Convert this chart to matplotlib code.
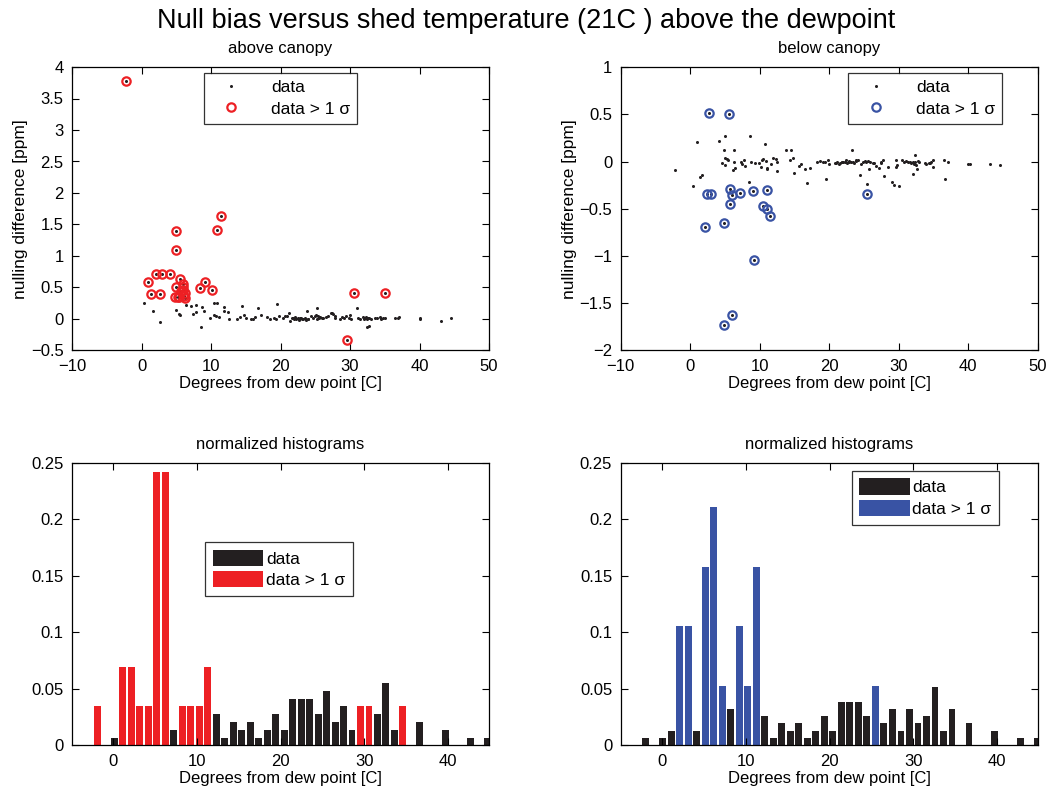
import matplotlib
matplotlib.use("Agg")
import matplotlib.pyplot as plt
from matplotlib.ticker import FuncFormatter
from matplotlib.patches import Patch
from matplotlib.lines import Line2D

plt.rcParams['font.family'] = ['Liberation Sans', 'DejaVu Sans']

# ---------------- data ----------------
# above canopy: all points that are within 1 sigma
above_x = [0.43, 1.7, 2.6, 5.0, 5.4, 5.6, 6.4, 7.1, 7.4, 7.8, 7.8, 8.5, 8.7, 9.0, 9.8,
           10.4, 10.4, 10.7, 10.9, 11.1, 11.9, 11.8, 12.5, 12.6, 13.7, 14.2, 14.5, 14.8,
           15.0, 15.7, 16.0, 16.4, 16.7, 17.2, 18.1, 18.5, 19.0, 19.4, 19.5, 19.8, 20.3,
           20.7, 21.0, 21.2, 21.4, 21.6, 21.8, 21.9, 22.1, 22.3, 22.5, 22.6, 22.8, 22.9,
           23.1, 23.3, 23.5, 23.6, 23.8, 23.9, 24.0, 24.4, 24.7, 24.9, 25.1, 25.2, 25.3,
           25.4, 25.6, 25.7, 25.9, 26.1, 26.5, 26.8, 27.2, 27.4, 27.6, 27.8, 27.9, 28.5,
           28.9, 29.2, 29.4, 29.8, 30.0, 30.2, 31.0, 31.2, 31.5, 31.8, 32.0, 32.2, 32.3,
           32.4, 32.5, 32.6, 32.7, 32.8, 33.0, 33.6, 33.9, 34.3, 34.5, 34.8, 35.1, 36.5,
           36.9, 37.0, 40.0, 40.1, 43.1, 44.6]
above_y = [0.26, 0.12, -0.05, 0.14, 0.08, 0.06, 0.23, 0.21, 0.08, 0.22, 0.11, -0.12, 0.19,
           0.13, 0.02, 0.26, 0.06, 0.04, 0.25, 0.03, 0.19, 0.13, 0.11, 0.0, 0.0, 0.03, 0.2,
           0.06, 0.01, 0.0, 0.0, 0.03, 0.17, 0.07, 0.03, 0.0, 0.02, 0.0, 0.24, 0.04, 0.02,
           0.05, 0.04, 0.1, -0.03, 0.01, 0.02, 0.0, 0.03, 0.0, 0.01, -0.01, 0.01, 0.02,
           0.0, 0.0, 0.01, -0.01, 0.13, 0.0, 0.0, 0.04, 0.02, 0.05, 0.06, 0.17, 0.0,
           0.04, 0.02, 0.03, 0.01, 0.01, 0.03, 0.04, 0.1, 0.09, 0.08, 0.04, 0.02, 0.0,
           0.03, 0.02, 0.04, 0.01, 0.06, 0.0, 0.17, 0.02, 0.0, 0.03, 0.0, 0.02, 0.03,
           -0.13, 0.0, 0.01, 0.02, -0.11, 0.0, 0.02, 0.02, 0.03, 0.0, 0.01, 0.01, 0.01,
           0.02, 0.03, 0.0, 0.01, -0.03, 0.01]
# above canopy: points beyond 1 sigma
above_out_x = [-2.2, 0.9, 1.4, 2.07, 2.6, 2.9, 4.1, 4.8, 4.9, 4.9, 5.0, 5.2, 5.4, 5.5, 5.75,
               5.9, 5.9, 6.0, 6.1, 6.2, 6.3, 8.4, 9.1, 10.2, 10.9, 11.5, 29.6, 30.6, 35.0]
above_out_y = [3.77, 0.58, 0.39, 0.72, 0.39, 0.72, 0.72, 0.35, 1.10, 0.51, 1.39, 0.35, 0.35,
               0.63, 0.45, 0.55, 0.46, 0.50, 0.37, 0.42, 0.34, 0.49, 0.58, 0.46, 1.42, 1.64,
               -0.33, 0.42, 0.42]

# below canopy: points within 1 sigma
below_x = [-2.2, 0.48, 0.96, 1.44, 1.68, 4.17, 4.55, 4.84, 4.99, 5.04, 5.1, 5.28, 5.5, 6.2,
           6.28, 6.38, 6.4, 7.3, 7.43, 7.8, 7.9, 8.44, 8.6, 8.7, 9.3, 9.9, 10.2, 10.4, 10.45,
           10.84, 10.9, 11.0, 11.1, 11.7, 12.0, 12.3, 12.5, 12.57, 13.75, 14.4, 14.5, 14.8,
           15.0, 15.7, 16.0, 16.5, 16.8, 17.2, 18.3, 18.7, 19.1, 19.4, 19.5, 19.8, 20.0,
           20.8, 21.0, 21.2, 21.4, 21.6, 21.8, 21.9, 22.0, 22.3, 22.5, 22.6, 22.8, 22.9,
           23.1, 23.3, 23.5, 23.6, 23.8, 23.9, 24.1, 24.4, 24.6, 24.9, 25.1, 25.3, 25.4,
           25.6, 25.7, 25.9, 26.3, 26.5, 26.8, 27.2, 27.4, 27.5, 27.7, 27.9, 28.4, 29.0,
           29.3, 29.6, 29.6, 29.8, 30.0, 30.5, 30.8, 31.0, 31.4, 31.6, 31.8, 32.0, 32.1,
           32.2, 32.3, 32.4, 32.5, 32.6, 32.8, 32.9, 33.8, 34.0, 34.3, 34.5, 34.7, 34.9,
           35.0, 36.5, 36.7, 37.1, 40.0, 40.3, 43.2, 44.6]
below_y = [-0.09, -0.26, 0.21, -0.16, -0.14, 0.22, -0.02, 0.12, 0.27, 0.04, -0.04, 0.03,
           0.02, -0.09, -0.01, 0.12, -0.07, -0.01, -0.03, 0.02, -0.05, -0.22, 0.27, 0.0,
           -0.02, -0.02, -0.06, 0.02, 0.03, 0.18, 0.01, -0.08, -0.07, -0.03, 0.04, 0.03,
           -0.1, -0.01, 0.12, 0.02, 0.12, 0.04, -0.12, -0.05, -0.03, -0.08, -0.23, -0.07,
           0.0, 0.01, 0.0, 0.0, -0.19, 0.02, -0.03, -0.02, -0.02, -0.01, -0.03, -0.02,
           -0.01, 0.0, -0.01, 0.0, 0.02, -0.02, 0.01, 0.0, 0.0, 0.12, 0.0, -0.02, 0.01,
           0.02, 0.02, -0.14, -0.03, 0.0, 0.01, -0.01, -0.24, 0.01, -0.08, 0.0, -0.02,
           -0.02, -0.05, -0.07, -0.02, 0.0, 0.02, -0.15, -0.06, -0.22, -0.25, -0.06, 0.02,
           -0.04, -0.26, 0.02, -0.01, 0.01, 0.0, -0.01, -0.02, 0.0, -0.13, -0.03, 0.0,
           0.07, -0.04, -0.08, 0.01, 0.0, -0.02, -0.03, -0.02, -0.02, -0.01, -0.06, 0.02,
           0.02, -0.18, -0.01, -0.03, -0.03, -0.03, -0.04]
# below canopy: points beyond 1 sigma
below_out_x = [2.69, 5.65, 2.2, 4.89, 2.49, 3.07, 5.8, 6.0, 7.15, 5.76, 9.02, 11.1, 10.55,
               11.0, 11.5, 9.16, 6.09, 4.94, 25.4]
below_out_y = [0.51, 0.50, -0.69, -0.65, -0.34, -0.34, -0.29, -0.35, -0.33, -0.45, -0.31,
               -0.30, -0.47, -0.50, -0.58, -1.04, -1.62, -1.73, -0.34]

# normalized histograms (bin centres, degrees from dew point)
bin_centers = [-1.92, -0.91, 0.11, 1.13, 2.14, 3.16, 4.17, 5.19, 6.20, 7.22, 8.23, 9.25,
               10.26, 11.28, 12.29, 13.31, 14.32, 15.34, 16.35, 17.37, 18.38, 19.40, 20.41,
               21.43, 22.44, 23.46, 24.47, 25.49, 26.50, 27.52, 28.53, 29.55, 30.56, 31.58,
               32.59, 33.61, 34.62, 35.64, 36.65, 37.67, 38.68, 39.70, 40.71, 41.73, 42.74,
               43.76, 44.77]
hist_above_all = [0.0069, 0, 0.0069, 0.0207, 0.0207, 0.0069, 0.0069, 0.069, 0.0552, 0.0138,
                  0.0345, 0.0138, 0.0345, 0.0276, 0.0276, 0.0069, 0.0207, 0.0138, 0.0207,
                  0.0069, 0.0138, 0.0276, 0.0138, 0.0414, 0.0414, 0.0414, 0.0276, 0.0483,
                  0.0207, 0.0345, 0.0138, 0.0345, 0.0207, 0.0276, 0.0552, 0.0138, 0.0345,
                  0, 0.0207, 0, 0, 0.0138, 0, 0, 0.0069, 0, 0.0069]
hist_above_out = [0.0345, 0, 0, 0.069, 0.069, 0.0345, 0.0345, 0.2414, 0.2414, 0, 0.0345,
                  0.0345, 0.0345, 0.069, 0, 0, 0, 0, 0, 0, 0, 0, 0, 0, 0, 0, 0, 0, 0, 0, 0,
                  0.0345, 0.0345, 0, 0, 0, 0.0345, 0, 0, 0, 0, 0, 0, 0, 0, 0, 0]
hist_below_all = [0.0065, 0, 0.0065, 0.0129, 0.0194, 0.0129, 0.0129, 0.058, 0.0516, 0.0194,
                  0.0323, 0.0194, 0.0323, 0.0516, 0.0258, 0.0065, 0.0194, 0.0129, 0.0194,
                  0.0065, 0.0129, 0.0258, 0.0129, 0.0387, 0.0387, 0.0387, 0.0258, 0.0452,
                  0.0194, 0.0323, 0.0129, 0.0323, 0.0194, 0.0258, 0.0516, 0.0129, 0.0323,
                  0, 0.0194, 0, 0, 0.0129, 0, 0, 0.0065, 0, 0.0065]
hist_below_out = [0, 0, 0, 0, 0.1053, 0.1053, 0, 0.1579, 0.2105, 0.0526, 0, 0.1053, 0.0526,
                  0.1579, 0, 0, 0, 0, 0, 0, 0, 0, 0, 0, 0, 0, 0, 0.0526, 0, 0, 0, 0, 0, 0,
                  0, 0, 0, 0, 0, 0, 0, 0, 0, 0, 0, 0, 0]

# ---------------- style ----------------
RED = '#ED2024'
BLUE = '#3953A4'
BLACK = '#231F20'
W, H = 1052, 792

fig = plt.figure(figsize=(W / 100, H / 100), dpi=100)


def ax_at(x0, y0, x1, y1):
    return fig.add_axes([x0 / W, 1 - y1 / H, (x1 - x0) / W, (y1 - y0) / H])


def style(ax):
    ax.tick_params(direction='in', top=True, right=True, length=5, width=0.8,
                   labelsize=12, pad=6, colors='black')
    for s in ax.spines.values():
        s.set_linewidth(0.9)


fmt = FuncFormatter(lambda v, p: ('%g' % v).replace('-', '\u2212'))

ax1 = ax_at(72, 67, 489, 350.5)
ax2 = ax_at(620.5, 67, 1037.7, 350.5)
ax3 = ax_at(72, 462.7, 488.5, 745.3)
ax4 = ax_at(620.5, 462.7, 1037.7, 745.3)

LEGFS = 12.5

# scatter panels
for ax, xs, ys, ox, oy, col, ylim, title in [
        (ax1, above_x, above_y, above_out_x, above_out_y, RED, (-0.5, 4), 'above canopy'),
        (ax2, below_x, below_y, below_out_x, below_out_y, BLUE, (-2, 1), 'below canopy')]:
    ax.plot(xs + ox, ys + oy, ls='none', marker='o', ms=2.2, color=BLACK, mew=0)
    ax.plot(ox, oy, ls='none', marker='o', ms=6.0, mfc='none', mec=col, mew=1.6)
    ax.set_xlim(-10, 50)
    ax.set_ylim(*ylim)
    ax.set_xticks(range(-10, 51, 10))
    ax.yaxis.set_major_formatter(fmt)
    ax.xaxis.set_major_formatter(fmt)
    ax.set_xlabel('Degrees from dew point [C]', fontsize=12, labelpad=1.5)
    ax.set_ylabel('nulling difference [ppm]', fontsize=12.5, labelpad=2)
    ax.set_title(title, fontsize=12, pad=10)
    style(ax)
    handles = [Line2D([], [], ls='none', marker='o', ms=2.2, color=BLACK, mew=0),
               Line2D([], [], ls='none', marker='o', ms=6.0, mfc='none', mec=col, mew=1.6)]
    xa = 0.5 if ax is ax1 else 0.73
    leg = ax.legend(handles, ['data', 'data > 1 \u03c3'], loc='upper center',
                    bbox_to_anchor=(xa, 0.978), fontsize=LEGFS, frameon=True, fancybox=False,
                    edgecolor='black', handlelength=2.4, handletextpad=1.1,
                    borderpad=0.4, labelspacing=0.35, borderaxespad=0)
    leg.get_frame().set_linewidth(0.9)

ax1.set_yticks([-0.5, 0, 0.5, 1, 1.5, 2, 2.5, 3, 3.5, 4])
ax2.set_yticks([-2, -1.5, -1, -0.5, 0, 0.5, 1])

# histogram panels
for ax, hall, hout, col, xa, ya in [
        (ax3, hist_above_all, hist_above_out, RED, 0.497, 0.72),
        (ax4, hist_below_all, hist_below_out, BLUE, 0.731, 0.972)]:
    ax.bar(bin_centers, hall, width=0.83, color=BLACK, linewidth=0)
    ax.bar(bin_centers, hout, width=0.83, color=col, linewidth=0)
    ax.set_xlim(-4.95, 44.85)
    ax.set_ylim(0, 0.25)
    ax.set_xticks([0, 10, 20, 30, 40])
    ax.set_yticks([0, 0.05, 0.1, 0.15, 0.2, 0.25])
    ax.yaxis.set_major_formatter(fmt)
    ax.set_xlabel('Degrees from dew point [C]', fontsize=12, labelpad=1.5)
    ax.set_title('normalized histograms', fontsize=12, pad=10)
    style(ax)
    handles = [Patch(facecolor=BLACK, edgecolor='none'), Patch(facecolor=col, edgecolor='none')]
    leg = ax.legend(handles, ['data', 'data > 1 \u03c3'], loc='upper center',
                    bbox_to_anchor=(xa, ya), fontsize=LEGFS, frameon=True, fancybox=False,
                    edgecolor='black', handlelength=2.9, handleheight=1.05, handletextpad=0.15,
                    borderpad=0.45, labelspacing=0.25, borderaxespad=0)
    leg.get_frame().set_linewidth(0.9)

fig.text(0.5, 1 - 21 / H, 'Null bias versus shed temperature (21C ) above the dewpoint',
         ha='center', va='center', fontsize=19.5)

fig.savefig('out.png', dpi=100)
